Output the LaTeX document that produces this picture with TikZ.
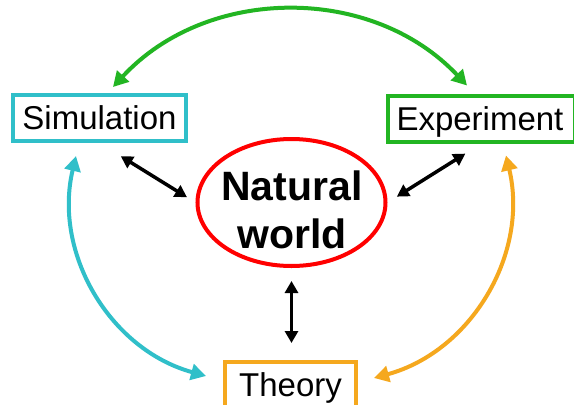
\documentclass[tikz,border=0pt]{standalone}
\usepackage{fontspec}
\setmainfont{Liberation Sans}
\usetikzlibrary{arrows.meta,shapes.geometric}
\definecolor{simc}{HTML}{30BFC9}
\definecolor{expc}{HTML}{22B522}
\definecolor{thc}{HTML}{F5A81E}
\definecolor{natc}{HTML}{FF0000}
\tikzset{
  boxnode/.style={draw, line width=4pt, rectangle, inner sep=0pt, text height=23.5pt, text depth=0pt,
    font=\fontsize{33}{39}\selectfont},
  bigarrow/.style={line width=4pt, {Triangle[length=15pt,width=16pt]}-{Triangle[length=15pt,width=16pt]}},
  blackarrow/.style={line width=3.5pt, black, {Triangle[length=12pt,width=13pt]}-{Triangle[length=12pt,width=13pt]}},
}
\begin{document}
\begin{tikzpicture}[x=1pt,y=-1pt]
\clip (0,0) rectangle (574,405);
\fill[white] (0,0) rectangle (574,405);
\node[boxnode, draw=simc, minimum width=173pt, minimum height=46pt] (sim) at (99.5,118) {Simulation};
\node[boxnode, draw=expc, minimum width=187pt, minimum height=46pt, text width=170pt, align=left] (exp) at (481.5,118.5) {Experiment};
\node[boxnode, draw=thc, minimum width=131pt, minimum height=46pt] (th) at (290.5,385) {Theory};
\node[draw=natc, line width=4pt, ellipse, inner sep=0pt, minimum width=188pt, minimum height=127pt] (nat) at (291.5,202.5) {};
\node[align=center, inner sep=0pt, font=\fontsize{41}{48}\selectfont\bfseries] (natt) at (292,209.5) {Natural\\world};
% green arc
\draw[bigarrow, expc] ([xshift=13.5pt,yshift=6pt]sim.north) to[bend left=47] ([xshift=-14.5pt,yshift=8pt]exp.north);
% cyan arc
\draw[bigarrow, simc] ([xshift=-23.5pt,yshift=-13pt]sim.south) to[bend right=44] ([xshift=-17pt,yshift=9pt]th.west);
% orange arc
\draw[bigarrow, thc] ([xshift=24.5pt,yshift=-12pt]exp.south) to[bend left=44] ([xshift=16pt,yshift=7pt]th.east);
% black arrows
\draw[blackarrow, shorten <=25pt, shorten >=10pt] (sim.south) -- (nat.west);
\draw[blackarrow, shorten <=19pt, shorten >=11pt] (exp.south) -- (nat.east);
\draw[blackarrow, shorten <=13pt, shorten >=17pt] (nat.south) -- (nat.south |- th.north);
\end{tikzpicture}
\end{document}
